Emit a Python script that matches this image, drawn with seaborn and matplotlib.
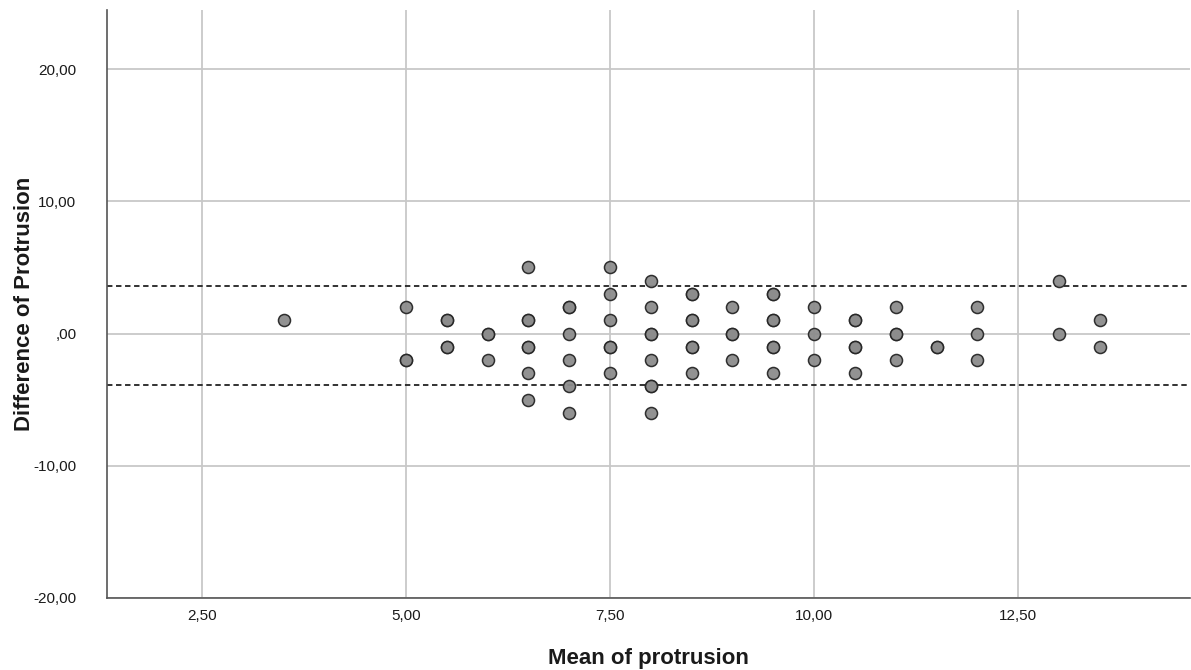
import matplotlib
matplotlib.use("Agg")
import matplotlib.pyplot as plt
import matplotlib.ticker as mticker
import seaborn as sns
import pandas as pd

# Data (mean of protrusion, difference of protrusion); duplicates for overplotted points
mean_vals = [3.5,
             5.0, 5.0, 5.0,
             5.5, 5.5, 5.5, 5.5,
             6.0, 6.0, 6.0,
             6.5, 6.5, 6.5, 6.5, 6.5, 6.5, 6.5,
             7.0, 7.0, 7.0, 7.0, 7.0, 7.0,
             7.5, 7.5, 7.5, 7.5, 7.5, 7.5,
             8.0, 8.0, 8.0, 8.0, 8.0, 8.0, 8.0, 8.0,
             8.5, 8.5, 8.5, 8.5, 8.5, 8.5, 8.5,
             9.0, 9.0, 9.0, 9.0,
             9.5, 9.5, 9.5, 9.5, 9.5, 9.5, 9.5,
             10.0, 10.0, 10.0,
             10.5, 10.5, 10.5, 10.5, 10.5,
             11.0, 11.0, 11.0, 11.0,
             11.5, 11.5,
             12.0, 12.0, 12.0,
             13.0, 13.0,
             13.5, 13.5]
diff_vals = [1,
             2, -2, -2,
             1, 1, -1, -1,
             0, 0, -2,
             5, 1, 1, -1, -1, -3, -5,
             2, 2, 0, -2, -4, -6,
             5, 3, 1, -1, -1, -3,
             4, 2, 0, 0, -2, -4, -4, -6,
             3, 3, 1, 1, -1, -1, -3,
             2, 0, 0, -2,
             3, 3, 1, 1, -1, -1, -3,
             2, 0, -2,
             1, 1, -1, -1, -3,
             2, 0, 0, -2,
             -1, -1,
             2, 0, -2,
             4, 0,
             1, -1]
upper_loa = 3.56
lower_loa = -3.86
x_ticks = [2.5, 5.0, 7.5, 10.0, 12.5]
y_ticks = [-20, -10, 0, 10, 20]

df = pd.DataFrame({"mean": mean_vals, "diff": diff_vals})

sns.set_style("white")
plt.rcParams['font.family'] = ['Liberation Sans', 'DejaVu Sans']

fig = plt.figure(figsize=(11.91, 6.70), dpi=100)
ax = fig.add_axes([0.0898, 0.1075, 0.909, 0.8775])

for t in x_ticks:
    ax.axvline(t, color="#c8c8c8", lw=1.3, zorder=0)
for t in y_ticks:
    ax.axhline(t, color="#c8c8c8", lw=1.3, zorder=0)

ax.axhline(upper_loa, color="#222222", lw=1.3, ls=(0, (3, 2)), zorder=1)
ax.axhline(lower_loa, color="#222222", lw=1.3, ls=(0, (3, 2)), zorder=1)

sns.scatterplot(data=df, x="mean", y="diff", ax=ax, s=75,
                color="#8c8c8c", edgecolor="#262626", linewidth=1.1,
                alpha=0.95, zorder=3)

ax.set_xlim(1.336, 14.6)
ax.set_ylim(-20, 24.47)
ax.set_xticks(x_ticks)
ax.set_yticks(y_ticks)

def fmt(v, pos):
    s = f"{v:.2f}".replace(".", ",")
    if s.startswith("0,"):
        s = s[1:]
    if s.startswith("-0,"):
        s = s[2:]
    return s

ax.xaxis.set_major_formatter(mticker.FuncFormatter(fmt))
ax.yaxis.set_major_formatter(mticker.FuncFormatter(fmt))
ax.tick_params(axis="both", length=0, labelsize=11, colors="#1a1a1a")
ax.tick_params(axis="x", pad=8)
ax.tick_params(axis="y", pad=22)

for side in ["top", "right"]:
    ax.spines[side].set_visible(False)
for side in ["left", "bottom"]:
    ax.spines[side].set_color("#555555")
    ax.spines[side].set_linewidth(1.2)

ax.set_xlabel("Mean of protrusion", fontsize=16, fontweight="bold", color="#1a1a1a")
ax.set_ylabel("Difference of Protrusion", fontsize=16, fontweight="bold", color="#1a1a1a")
ax.xaxis.set_label_coords(0.5, -0.085)
ax.yaxis.set_label_coords(-0.066, 0.5)

fig.savefig("out.png", dpi=100)
